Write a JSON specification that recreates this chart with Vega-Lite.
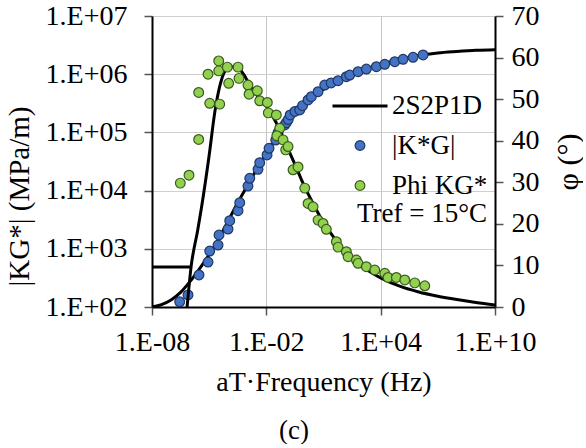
{
  "$schema": "https://vega.github.io/schema/vega-lite/v6.json",
  "width": 343,
  "height": 291,
  "padding": {"left": 5, "top": 2, "right": 0, "bottom": 0},
  "background": "white",
  "config": {
    "font": "Liberation Serif",
    "view": {"stroke": null},
    "axis": {
      "labelFont": "Liberation Serif",
      "titleFont": "Liberation Serif",
      "labelFontSize": 28,
      "titleFontSize": 28,
      "titleFontWeight": "normal",
      "labelColor": "black",
      "titleColor": "black",
      "domainColor": "black",
      "domainWidth": 2,
      "tickColor": "#555555",
      "tickSize": 8,
      "tickWidth": 1.5,
      "gridColor": "#cfcfcf",
      "gridWidth": 1,
      "labelFlush": false,
      "labelOverlap": false
    },
    "legend": {
      "orient": "none",
      "legendX": 179,
      "legendY": 61,
      "titleOrient": "bottom",
      "titleAnchor": "end",
      "titleFontSize": 27,
      "titleFontWeight": "normal",
      "titleFont": "Liberation Serif",
      "titleColor": "black",
      "titlePadding": 2,
      "titleLimit": 300,
      "labelFontSize": 27,
      "labelFont": "Liberation Serif",
      "labelColor": "black",
      "labelOffset": 3,
      "rowPadding": 12,
      "padding": 0,
      "labelLimit": 300
    }
  },
  "datasets": {
    "kmodel": [
      {"f": 1e-8, "k": 100},
      {"f": 3.162e-8, "k": 110},
      {"f": 1e-7, "k": 132},
      {"f": 3.162e-7, "k": 178},
      {"f": 1e-6, "k": 275},
      {"f": 3.162e-6, "k": 457},
      {"f": 1e-5, "k": 794},
      {"f": 3.162e-5, "k": 1479},
      {"f": 1e-4, "k": 3020},
      {"f": 3.162e-4, "k": 6166},
      {"f": 1e-3, "k": 12020},
      {"f": 3.162e-3, "k": 23440},
      {"f": 1e-2, "k": 43650},
      {"f": 3.162e-2, "k": 77620},
      {"f": 0.1, "k": 128800},
      {"f": 0.3162, "k": 204200},
      {"f": 1, "k": 302000},
      {"f": 3.162, "k": 416900},
      {"f": 10, "k": 549500},
      {"f": 31.62, "k": 691800},
      {"f": 100, "k": 851100},
      {"f": 1000, "k": 1175000},
      {"f": 1e4, "k": 1479000},
      {"f": 1e5, "k": 1778000},
      {"f": 1e6, "k": 2089000},
      {"f": 1e7, "k": 2317000},
      {"f": 1e8, "k": 2455000},
      {"f": 1e9, "k": 2570000},
      {"f": 1e10, "k": 2630000}
    ],
    "phimodel": [
      {"f": 1e-8, "phi": 9.6, "seg": "a"},
      {"f": 1.122e-6, "phi": 9.6, "seg": "a"},
      {"f": 6.92e-7, "phi": 0, "seg": "b"},
      {"f": 1.122e-6, "phi": 9.6, "seg": "b"},
      {"f": 2.512e-6, "phi": 18.5, "seg": "b"},
      {"f": 3.981e-6, "phi": 24, "seg": "b"},
      {"f": 1e-5, "phi": 36.5, "seg": "b"},
      {"f": 1.995e-5, "phi": 47, "seg": "b"},
      {"f": 3.548e-5, "phi": 53, "seg": "b"},
      {"f": 6.31e-5, "phi": 56.5, "seg": "b"},
      {"f": 1.259e-4, "phi": 57.8, "seg": "b"},
      {"f": 3.162e-4, "phi": 57.6, "seg": "b"},
      {"f": 6.31e-4, "phi": 56, "seg": "b"},
      {"f": 1e-3, "phi": 54.5, "seg": "b"},
      {"f": 3.162e-3, "phi": 51, "seg": "b"},
      {"f": 1e-2, "phi": 48.3, "seg": "b"},
      {"f": 3.162e-2, "phi": 44.5, "seg": "b"},
      {"f": 0.1, "phi": 39.5, "seg": "b"},
      {"f": 0.3162, "phi": 34.3, "seg": "b"},
      {"f": 1, "phi": 29, "seg": "b"},
      {"f": 3.162, "phi": 24.5, "seg": "b"},
      {"f": 10, "phi": 20.3, "seg": "b"},
      {"f": 31.62, "phi": 17, "seg": "b"},
      {"f": 100, "phi": 14, "seg": "b"},
      {"f": 316.2, "phi": 11.6, "seg": "b"},
      {"f": 1000, "phi": 9.8, "seg": "b"},
      {"f": 3162, "phi": 8.3, "seg": "b"},
      {"f": 1e4, "phi": 7.0, "seg": "b"},
      {"f": 1e5, "phi": 5.0, "seg": "b"},
      {"f": 1e6, "phi": 3.6, "seg": "b"},
      {"f": 1e7, "phi": 2.6, "seg": "b"},
      {"f": 1e8, "phi": 1.8, "seg": "b"},
      {"f": 1e9, "phi": 1.1, "seg": "b"},
      {"f": 1e10, "phi": 0.5, "seg": "b"}
    ],
    "kpts": [
      {"f": 2.84e-7, "k": 123, "s": "|K*G|"},
      {"f": 7.76e-7, "k": 161, "s": "|K*G|"},
      {"f": 2.93e-6, "k": 355, "s": "|K*G|"},
      {"f": 8.71e-6, "k": 593, "s": "|K*G|"},
      {"f": 1.07e-5, "k": 916, "s": "|K*G|"},
      {"f": 2.92e-5, "k": 1161, "s": "|K*G|"},
      {"f": 3.29e-5, "k": 1726, "s": "|K*G|"},
      {"f": 9.77e-5, "k": 2188, "s": "|K*G|"},
      {"f": 1.2e-4, "k": 3040, "s": "|K*G|"},
      {"f": 3.27e-4, "k": 4519, "s": "|K*G|"},
      {"f": 4.02e-4, "k": 6194, "s": "|K*G|"},
      {"f": 1.09e-3, "k": 11990, "s": "|K*G|"},
      {"f": 1.35e-3, "k": 16260, "s": "|K*G|"},
      {"f": 3.66e-3, "k": 23230, "s": "|K*G|"},
      {"f": 4.5e-3, "k": 30150, "s": "|K*G|"},
      {"f": 1.09e-2, "k": 40930, "s": "|K*G|"},
      {"f": 1.39e-2, "k": 53330, "s": "|K*G|"},
      {"f": 3.12e-2, "k": 73960, "s": "|K*G|"},
      {"f": 4.11e-2, "k": 98860, "s": "|K*G|"},
      {"f": 9.25e-2, "k": 134000, "s": "|K*G|"},
      {"f": 0.112, "k": 146900, "s": "|K*G|"},
      {"f": 0.141, "k": 166000, "s": "|K*G|"},
      {"f": 0.178, "k": 199500, "s": "|K*G|"},
      {"f": 0.316, "k": 229000, "s": "|K*G|"},
      {"f": 0.566, "k": 242700, "s": "|K*G|"},
      {"f": 0.794, "k": 288400, "s": "|K*G|"},
      {"f": 1.55, "k": 360600, "s": "|K*G|"},
      {"f": 2.3, "k": 410200, "s": "|K*G|"},
      {"f": 5.18, "k": 500000, "s": "|K*G|"},
      {"f": 11.6, "k": 651600, "s": "|K*G|"},
      {"f": 25.1, "k": 707900, "s": "|K*G|"},
      {"f": 58.1, "k": 772700, "s": "|K*G|"},
      {"f": 158, "k": 905700, "s": "|K*G|"},
      {"f": 239, "k": 968300, "s": "|K*G|"},
      {"f": 652, "k": 1104000, "s": "|K*G|"},
      {"f": 1774, "k": 1227000, "s": "|K*G|"},
      {"f": 5943, "k": 1346000, "s": "|K*G|"},
      {"f": 16410, "k": 1479000, "s": "|K*G|"},
      {"f": 54950, "k": 1641000, "s": "|K*G|"},
      {"f": 150000, "k": 1803000, "s": "|K*G|"},
      {"f": 502300, "k": 1950000, "s": "|K*G|"},
      {"f": 1683000, "k": 2138000, "s": "|K*G|"}
    ],
    "phipts": [
      {"f": 3.06e-7, "phi": 29.8, "s": "Phi KG*"},
      {"f": 8.75e-7, "phi": 31.7, "s": "Phi KG*"},
      {"f": 2.82e-6, "phi": 40.3, "s": "Phi KG*"},
      {"f": 2.82e-6, "phi": 51.6, "s": "Phi KG*"},
      {"f": 1.07e-5, "phi": 49.0, "s": "Phi KG*"},
      {"f": 3.58e-5, "phi": 48.8, "s": "Phi KG*"},
      {"f": 8.71e-6, "phi": 56.0, "s": "Phi KG*"},
      {"f": 3.17e-5, "phi": 59.2, "s": "Phi KG*"},
      {"f": 3.17e-5, "phi": 56.8, "s": "Phi KG*"},
      {"f": 8.97e-5, "phi": 57.7, "s": "Phi KG*"},
      {"f": 1.06e-4, "phi": 53.8, "s": "Phi KG*"},
      {"f": 3.27e-4, "phi": 57.7, "s": "Phi KG*"},
      {"f": 3.69e-4, "phi": 55.0, "s": "Phi KG*"},
      {"f": 1.09e-3, "phi": 53.4, "s": "Phi KG*"},
      {"f": 1.24e-3, "phi": 51.2, "s": "Phi KG*"},
      {"f": 3.37e-3, "phi": 52.0, "s": "Phi KG*"},
      {"f": 4.5e-3, "phi": 49.6, "s": "Phi KG*"},
      {"f": 1.13e-2, "phi": 49.2, "s": "Phi KG*"},
      {"f": 1.27e-2, "phi": 46.7, "s": "Phi KG*"},
      {"f": 3.35e-2, "phi": 46.2, "s": "Phi KG*"},
      {"f": 5.05e-2, "phi": 43.0, "s": "Phi KG*"},
      {"f": 3.55e-2, "phi": 41.2, "s": "Phi KG*"},
      {"f": 7.53e-2, "phi": 40.2, "s": "Phi KG*"},
      {"f": 0.104, "phi": 37.8, "s": "Phi KG*"},
      {"f": 0.138, "phi": 38.6, "s": "Phi KG*"},
      {"f": 0.252, "phi": 33.0, "s": "Phi KG*"},
      {"f": 0.461, "phi": 33.7, "s": "Phi KG*"},
      {"f": 1.04, "phi": 28.6, "s": "Phi KG*"},
      {"f": 1.55, "phi": 24.9, "s": "Phi KG*"},
      {"f": 2.83, "phi": 24.1, "s": "Phi KG*"},
      {"f": 5.18, "phi": 20.9, "s": "Phi KG*"},
      {"f": 9.46, "phi": 20.1, "s": "Phi KG*"},
      {"f": 14.1, "phi": 18.7, "s": "Phi KG*"},
      {"f": 47.3, "phi": 15.7, "s": "Phi KG*"},
      {"f": 58.1, "phi": 14.4, "s": "Phi KG*"},
      {"f": 158, "phi": 13.3, "s": "Phi KG*"},
      {"f": 195, "phi": 12.1, "s": "Phi KG*"},
      {"f": 531, "phi": 11.3, "s": "Phi KG*"},
      {"f": 652, "phi": 10.5, "s": "Phi KG*"},
      {"f": 1774, "phi": 9.7, "s": "Phi KG*"},
      {"f": 4898, "phi": 8.9, "s": "Phi KG*"},
      {"f": 16410, "phi": 8.1, "s": "Phi KG*"},
      {"f": 24430, "phi": 7.1, "s": "Phi KG*"},
      {"f": 66680, "phi": 7.1, "s": "Phi KG*"},
      {"f": 184100, "phi": 6.5, "s": "Phi KG*"},
      {"f": 616600, "phi": 5.8, "s": "Phi KG*"},
      {"f": 2065000, "phi": 5.1, "s": "Phi KG*"}
    ]
  },
  "title": {
    "text": "(c)",
    "orient": "bottom",
    "anchor": "middle",
    "frame": "bounds",
    "fontSize": 27,
    "fontWeight": "normal",
    "font": "Liberation Serif",
    "color": "black",
    "offset": 22
  },
  "encoding": {
    "x": {
      "field": "f",
      "type": "quantitative",
      "scale": {"type": "log", "domain": [1e-8, 1e10], "nice": false},
      "axis": {
        "title": "aT·Frequency (Hz)",
        "values": [1e-8, 1e-2, 1e4, 1e10],
        "labelExpr": "'1.E' + (datum.value < 1 ? '-' : '+') + (abs(round(log(datum.value)/LN10)) < 10 ? '0' : '') + abs(round(log(datum.value)/LN10))",
        "grid": true,
        "gridColor": "#c4c4c4",
        "labelPadding": 13,
        "titlePadding": 12
      }
    }
  },
  "layer": [
    {
      "encoding": {
        "y": {
          "field": "k",
          "type": "quantitative",
          "scale": {"type": "log", "domain": [100, 10000000], "nice": false},
          "axis": {
            "orient": "left",
            "title": "|KG*| (MPa/m)",
            "values": [100, 1000, 10000, 100000, 1000000, 10000000],
            "labelExpr": "'1.E' + (datum.value < 1 ? '-' : '+') + (abs(round(log(datum.value)/LN10)) < 10 ? '0' : '') + abs(round(log(datum.value)/LN10))",
            "grid": true,
            "labelPadding": 17,
            "titlePadding": 11,
            "titleFontSize": 29,
            "titleY": 180
          }
        }
      },
      "layer": [
        {
          "data": {"name": "kmodel"},
          "mark": {"type": "line", "stroke": "black", "strokeWidth": 3, "interpolate": "monotone", "clip": true},
          "encoding": {}
        },
        {
          "data": {"name": "kpts"},
          "mark": {"type": "point", "filled": true, "opacity": 1},
          "encoding": {
            "fill": {"field": "s", "type": "nominal", "title": "Tref = 15°C", "scale": {"domain": ["2S2P1D", "|K*G|", "Phi KG*"], "range": ["#000000", "#4472C4", "#92D050"]}},
            "stroke": {"field": "s", "type": "nominal", "title": "Tref = 15°C", "scale": {"domain": ["2S2P1D", "|K*G|", "Phi KG*"], "range": ["#000000", "#1F3864", "#3A5A1C"]}},
            "shape": {"field": "s", "type": "nominal", "title": "Tref = 15°C", "scale": {"domain": ["2S2P1D", "|K*G|", "Phi KG*"], "range": ["stroke", "circle", "circle"]}},
            "size": {"field": "s", "type": "nominal", "title": "Tref = 15°C", "scale": {"type": "ordinal", "domain": ["2S2P1D", "|K*G|", "Phi KG*"], "range": [3025, 95, 95]}},
            "strokeWidth": {"field": "s", "type": "nominal", "title": "Tref = 15°C", "scale": {"type": "ordinal", "domain": ["2S2P1D", "|K*G|", "Phi KG*"], "range": [3, 1.2, 1.2]}}
          }
        }
      ]
    },
    {
      "encoding": {
        "y": {
          "field": "phi",
          "type": "quantitative",
          "scale": {"domain": [0, 70], "nice": false},
          "axis": {
            "orient": "right",
            "title": "φ (°)",
            "values": [0, 10, 20, 30, 40, 50, 60, 70],
            "grid": false,
            "labelPadding": 8,
            "titlePadding": 14,
            "titleFontSize": 30,
            "titleAngle": 270,
            "titleBaseline": "top"
          }
        }
      },
      "layer": [
        {
          "data": {"name": "phimodel"},
          "mark": {"type": "line", "stroke": "black", "strokeWidth": 3, "interpolate": "monotone", "clip": true},
          "encoding": {
            "detail": {"field": "seg", "type": "nominal"}
          }
        },
        {
          "data": {"name": "phipts"},
          "mark": {"type": "point", "filled": true, "opacity": 1},
          "encoding": {
            "fill": {"field": "s", "type": "nominal", "title": "Tref = 15°C", "scale": {"domain": ["2S2P1D", "|K*G|", "Phi KG*"], "range": ["#000000", "#4472C4", "#92D050"]}},
            "stroke": {"field": "s", "type": "nominal", "title": "Tref = 15°C", "scale": {"domain": ["2S2P1D", "|K*G|", "Phi KG*"], "range": ["#000000", "#1F3864", "#3A5A1C"]}},
            "shape": {"field": "s", "type": "nominal", "title": "Tref = 15°C", "scale": {"domain": ["2S2P1D", "|K*G|", "Phi KG*"], "range": ["stroke", "circle", "circle"]}},
            "size": {"field": "s", "type": "nominal", "title": "Tref = 15°C", "scale": {"type": "ordinal", "domain": ["2S2P1D", "|K*G|", "Phi KG*"], "range": [3025, 95, 95]}},
            "strokeWidth": {"field": "s", "type": "nominal", "title": "Tref = 15°C", "scale": {"type": "ordinal", "domain": ["2S2P1D", "|K*G|", "Phi KG*"], "range": [3, 1.2, 1.2]}}
          }
        }
      ]
    }
  ],
  "resolve": {"scale": {"y": "independent"}, "axis": {"y": "independent"}}
}
